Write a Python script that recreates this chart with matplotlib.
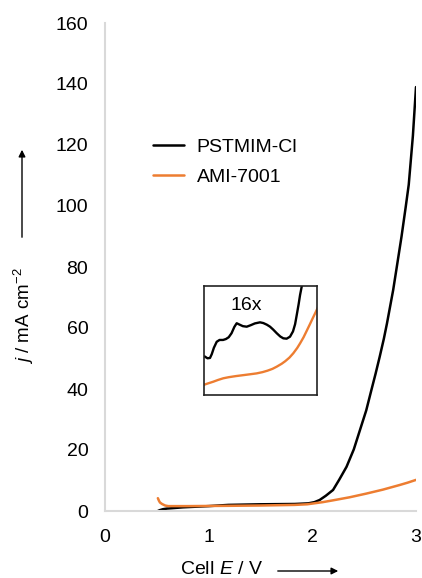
import matplotlib.pyplot as plt
from matplotlib.patches import FancyArrowPatch
import numpy as np

plt.rcParams['font.family'] = ['Liberation Sans', 'DejaVu Sans']
plt.rcParams['mathtext.fontset'] = 'custom'
plt.rcParams['mathtext.rm'] = 'Liberation Sans'
plt.rcParams['mathtext.it'] = 'Liberation Sans:italic'

# main curves (Cell E / V, j / mA cm-2)
pst_E = [0.51, 0.53, 0.56, 0.60, 0.64, 0.75, 0.87, 1.0, 1.19, 1.5, 1.83, 1.96, 2.02, 2.07,
         2.13, 2.20, 2.26, 2.33, 2.40, 2.46, 2.52, 2.57, 2.61, 2.65, 2.69, 2.72, 2.75, 2.78,
         2.81, 2.86, 2.90, 2.93, 2.97, 3.0]
pst_j = [0.0, 0.3, 0.6, 0.8, 0.9, 1.2, 1.4, 1.6, 2.0, 2.2, 2.3, 2.5, 2.9, 3.6,
         5.0, 6.9, 10.3, 14.5, 20.2, 26.6, 33.0, 39.7, 45.0, 50.6, 56.5, 61.5, 67.0, 72.5,
         79.0, 89.9, 99.5, 107.0, 123.0, 139.0]

ami_E = [0.51, 0.52, 0.53, 0.55, 0.58, 0.61, 0.8, 1.19, 1.5, 1.83, 1.95, 2.1, 2.2, 2.36,
         2.52, 2.68, 2.84, 2.92, 3.0]
ami_j = [4.2, 3.4, 2.8, 2.3, 1.8, 1.6, 1.6, 1.7, 1.8, 2.0, 2.2, 2.9, 3.5, 4.5,
         5.7, 7.0, 8.5, 9.3, 10.2]

# inset: magnified (16x) region
ins_pst_E = [0.614, 0.65, 0.685, 0.71, 0.74, 0.78, 0.82, 0.87, 0.91, 0.95, 0.99, 1.03, 1.063,
             1.10, 1.15, 1.205, 1.26, 1.32, 1.393, 1.44, 1.49, 1.535, 1.58, 1.63, 1.68, 1.723,
             1.77, 1.818, 1.86, 1.89, 1.913, 1.94, 1.96, 1.983]
ins_pst_j = [21.1, 20.2, 20.4, 22.5, 26.0, 29.3, 30.3, 30.3, 30.8, 31.8, 34.0, 37.5, 39.5,
             38.8, 37.9, 37.6, 38.4, 39.4, 40.0, 39.6, 38.7, 37.6, 36.0, 34.0, 32.2, 31.2,
             31.0, 32.1, 35.0, 39.0, 44.0, 50.0, 55.0, 59.6]
ins_ami_E = [0.59, 0.65, 0.73, 0.80, 0.873, 0.95, 1.05, 1.15, 1.25, 1.346, 1.43, 1.50, 1.57,
             1.63, 1.70, 1.75, 1.81, 1.865, 1.92, 1.96, 2.01, 2.054, 2.10, 2.14, 2.18, 2.218]
ins_ami_j = [5.5, 6.3, 7.3, 8.3, 9.2, 9.8, 10.4, 10.9, 11.4, 11.9, 12.6, 13.4, 14.4,
             15.6, 17.2, 18.6, 20.6, 23.0, 25.9, 28.4, 31.8, 35.3, 39.0, 42.3, 45.5, 48.6]

black = '#000000'
orange = '#ed7d31'
grey = '#d9d9d9'
fs = 14

fig = plt.figure(figsize=(4.22, 5.78), dpi=100)
ax = fig.add_axes([105/422, 1-511/578, 311/422, 488/578])

ax.plot(pst_E, pst_j, color=black, lw=1.8, label='PSTMIM-Cl', solid_capstyle='round')
ax.plot(ami_E, ami_j, color=orange, lw=1.8, label='AMI-7001', solid_capstyle='round')

ax.set_xlim(0, 3)
ax.set_ylim(0, 160)
ax.set_xticks([0, 1, 2, 3])
ax.set_yticks(np.arange(0, 161, 20))
ax.tick_params(length=0, labelsize=fs)
ax.tick_params(axis='x', pad=13)
ax.tick_params(axis='y', pad=12)
for s in ['top', 'right']:
    ax.spines[s].set_visible(False)
for s in ['left', 'bottom']:
    ax.spines[s].set_color(grey)
    ax.spines[s].set_linewidth(1.5)

ax.legend(loc='center left', bbox_to_anchor=((153-105)/311, (511-162)/488), frameon=False,
          fontsize=fs, handlelength=1.6, handletextpad=0.65, labelspacing=0.65,
          borderpad=0, borderaxespad=0)

# inset
ins = fig.add_axes([204/422, 1-395/578, 113/422, 109/578])
ins.plot(ins_pst_E, ins_pst_j, color=black, lw=1.7)
ins.plot(ins_ami_E, ins_ami_j, color=orange, lw=1.7)
ins.set_xlim(0.6, 2.2)
ins.set_ylim(0, 60)
ins.set_xticks([])
ins.set_yticks([])
for s in ins.spines.values():
    s.set_linewidth(1.2)
    s.set_color('#222222')
ins.text(0.37, 0.82, '16x', transform=ins.transAxes, fontsize=fs, ha='center', va='center')

# axis labels with arrows
fig.text(24/422, 1-316/578, r'$j$ / mA cm$^{\mathrm{-2}}$', rotation=90, fontsize=13.5,
         ha='center', va='center')
fig.text(222/422, 1-570/578, r'Cell $E$ / V', fontsize=fs, ha='center', va='center')
fig.patches.append(FancyArrowPatch(
    (22/422, 1-240/578), (22/422, 1-147/578), transform=fig.transFigure,
    arrowstyle='-|>', mutation_scale=10, color='black', lw=1))
fig.patches.append(FancyArrowPatch(
    (275/422, 1-571/578), (341/422, 1-571/578), transform=fig.transFigure,
    arrowstyle='-|>', mutation_scale=10, color='black', lw=1))

fig.savefig('out.png', dpi=100)
